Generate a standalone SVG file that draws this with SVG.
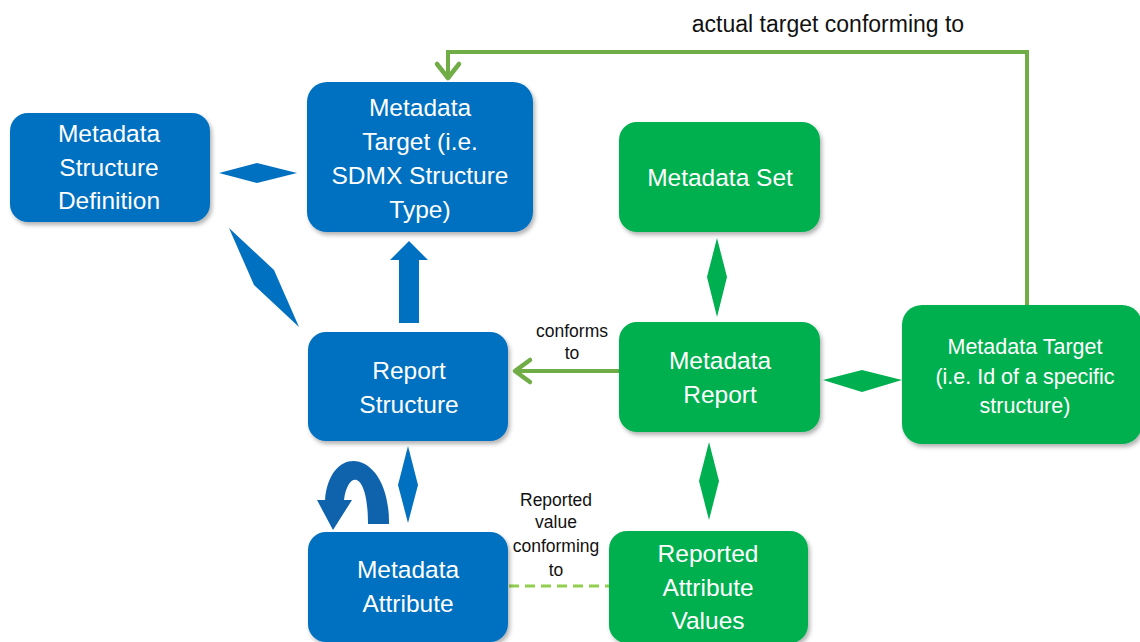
<svg xmlns="http://www.w3.org/2000/svg" width="1140" height="642" viewBox="0 0 1140 642">
<style>
.blue{fill:#0070C0}
.green{fill:#00B050}
.box{filter:url(#sh)}
.t{font-family:"Liberation Sans",Arial,sans-serif;font-size:24.5px;fill:#FFFFFF;text-anchor:middle}
.t2{font-family:"Liberation Sans",Arial,sans-serif;font-size:21.5px;fill:#FFFFFF;text-anchor:middle}
.lbl{font-family:"Liberation Sans",Arial,sans-serif;font-size:17.5px;fill:#111111;text-anchor:middle}
.lblbig{font-family:"Liberation Sans",Arial,sans-serif;font-size:23px;fill:#111111;text-anchor:middle}
.gl{fill:none;stroke:#70AD47;stroke-width:4}
.head{fill:none;stroke:#70AD47;stroke-width:4.5;stroke-linecap:round;stroke-linejoin:round}
</style>
<defs>
<filter id="sh" x="-10%" y="-10%" width="125%" height="125%">
<feDropShadow dx="2" dy="3" stdDeviation="2" flood-color="#000" flood-opacity="0.3"/>
</filter>
</defs>
<rect width="1140" height="642" fill="#FFFFFF"/>

<g id="connectors">
<polygon class="blue" points="219,173 257,163 297,173 257,183"/>
<polygon class="blue" points="229,228 274,270 299,327 254,285"/>
<polygon class="blue" points="399,323 419,323 419,260 428,260 409,241 390,260 399,260"/>
<polygon class="blue" points="408,446 418,485 408,523 398,485"/>
<path d="M389 524 C390 450 330 440 325 500 L317 500 L333 530 L352 500 L344 500 C348 470 368 470 368 524 Z" fill="#0F63AD"/>
<polygon class="green" points="717,238 727,277 717,317 707,277"/>
<polygon class="green" points="709,442 719,481 709,520 699,481"/>
<polygon class="green" points="823,380 862,370 902,380 862,392"/>
<line class="gl" x1="619" y1="371" x2="516" y2="371"/>
<polyline class="head" points="530,360 515,371 530,382"/>
<polyline class="gl" points="1027,305 1027,52 448,52 448,77"/>
<polyline class="head" points="437,64 448,78 459,64"/>
<line x1="509" y1="586" x2="609" y2="586" stroke="#92D050" stroke-width="3" stroke-dasharray="10,6"/>
<text class="lbl" x="572" y="337">conforms</text>
<text class="lbl" x="572" y="359">to</text>
<text class="lbl" x="556" y="506">Reported</text>
<text class="lbl" x="556" y="528">value</text>
<text class="lbl" x="556" y="552">conforming</text>
<text class="lbl" x="556" y="576">to</text>
<text class="lblbig" x="828" y="32">actual target conforming to</text>
</g>

<g id="msd">
<rect class="blue box" x="10" y="113" width="200" height="109" rx="18"/>
<text class="t" x="109" y="142">Metadata</text>
<text class="t" x="109" y="176">Structure</text>
<text class="t" x="109" y="209">Definition</text>
</g>
<g id="mt-blue">
<rect class="blue box" x="307" y="82" width="226" height="150" rx="20"/>
<text class="t" x="420" y="116">Metadata</text>
<text class="t" x="420" y="150">Target (i.e.</text>
<text class="t" x="420" y="184">SDMX Structure</text>
<text class="t" x="420" y="218">Type)</text>
</g>
<g id="report-structure">
<rect class="blue box" x="308" y="332" width="200" height="109" rx="18"/>
<text class="t" x="409" y="379">Report</text>
<text class="t" x="409" y="413">Structure</text>
</g>
<g id="metadata-attribute">
<rect class="blue box" x="308" y="532" width="200" height="110" rx="18"/>
<text class="t" x="408" y="578">Metadata</text>
<text class="t" x="408" y="612">Attribute</text>
</g>
<g id="metadata-set">
<rect class="green box" x="619" y="122" width="201" height="110" rx="18"/>
<text class="t" x="720" y="186">Metadata Set</text>
</g>
<g id="metadata-report">
<rect class="green box" x="619" y="322" width="201" height="110" rx="18"/>
<text class="t" x="720" y="369">Metadata</text>
<text class="t" x="720" y="403">Report</text>
</g>
<g id="mt-green">
<rect class="green box" x="902" y="305" width="240" height="139" rx="20"/>
<text class="t2" x="1025" y="354">Metadata Target</text>
<text class="t2" x="1025" y="384">(i.e. Id of a specific</text>
<text class="t2" x="1025" y="413">structure)</text>
</g>
<g id="reported-attribute-values">
<rect class="green box" x="609" y="531" width="199" height="112" rx="18"/>
<text class="t" x="708" y="562">Reported</text>
<text class="t" x="708" y="596">Attribute</text>
<text class="t" x="708" y="629">Values</text>
</g>
</svg>
